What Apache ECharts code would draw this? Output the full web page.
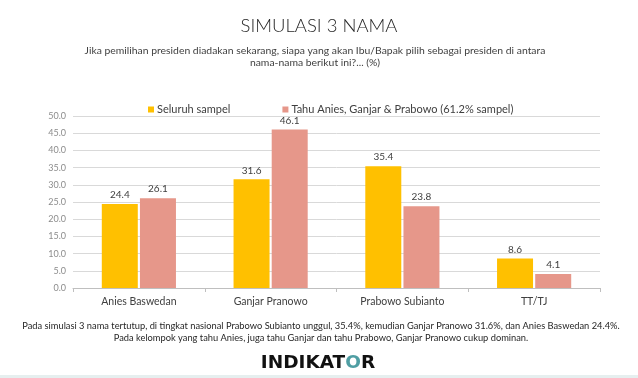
<!DOCTYPE html>
<html>
<head>
<meta charset="utf-8">
<script src="https://cdn.jsdelivr.net/npm/echarts@6/dist/echarts.min.js"></script>
<style>
  html, body { margin: 0; padding: 0; background: #fff; }
  #chart { width: 638px; height: 378px; }
</style>
</head>
<body>
<div id="chart"></div>
<script>
// Simulasi 3 nama - Indikator
const categories = ['Anies Baswedan', 'Ganjar Pranowo', 'Prabowo Subianto', 'TT/TJ'];
const seluruhSampel = [24.4, 31.6, 35.4, 8.6];
const tahuKetiga = [26.1, 46.1, 23.8, 4.1];
const seriesNames = ['Seluruh sampel', 'Tahu Anies, Ganjar & Prabowo (61.2% sampel)'];

const titleText = 'SIMULASI 3 NAMA';
const questionText = 'Jika pemilihan presiden diadakan sekarang, siapa yang akan Ibu/Bapak pilih sebagai presiden di antara\nnama-nama berikut ini?... (%)';
const noteText = 'Pada simulasi 3 nama tertutup, di tingkat nasional Prabowo Subianto unggul, 35.4%, kemudian Ganjar Pranowo 31.6%, dan Anies Baswedan 24.4%.\nPada kelompok yang tahu Anies, juga tahu Ganjar dan tahu Prabowo, Ganjar Pranowo cukup dominan.';

const FONT = 'Lato, "Noto Sans", sans-serif';

const chart = echarts.init(document.getElementById('chart'));

const labelStyle = {
  show: true,
  position: 'top',
  distance: 4,
  color: '#404040',
  fontSize: 10,
  fontFamily: FONT,
  formatter: p => p.value.toFixed(1)
};

chart.setOption({
  backgroundColor: '#fff',
  animation: false,
  textStyle: { fontFamily: FONT },
  title: {
    text: titleText,
    left: 'center',
    top: 12,
    textStyle: { fontSize: 18.5, fontWeight: 300, color: '#262626', fontFamily: FONT }
  },
  legend: {
    top: 99,
    left: 143,
    itemWidth: 6,
    itemHeight: 6,
    itemGap: 52,
    icon: 'rect',
    textStyle: { fontSize: 11, color: '#404040', fontFamily: FONT, padding: [0, 0, 0, -2] },
    data: seriesNames
  },
  grid: { left: 73, right: 38, top: 116, bottom: 90 },
  xAxis: {
    type: 'category',
    data: categories,
    axisLine: { lineStyle: { color: '#bfbfbf' } },
    axisTick: { show: true, length: 4, lineStyle: { color: '#bfbfbf' } },
    axisLabel: { color: '#404040', fontSize: 10.5, margin: 8, fontFamily: FONT }
  },
  yAxis: {
    type: 'value',
    min: 0,
    max: 50,
    interval: 5,
    axisLine: { show: false },
    axisTick: { show: false },
    axisLabel: { color: '#8c8c8c', fontSize: 9, margin: 7, fontFamily: FONT, formatter: v => v.toFixed(1) },
    splitLine: { lineStyle: { color: '#d9d9d9', width: 1 } }
  },
  series: [
    {
      name: seriesNames[0],
      type: 'bar',
      data: seluruhSampel,
      barWidth: 36,
      barGap: '6%',
      itemStyle: { color: '#FFC000' },
      label: labelStyle
    },
    {
      name: seriesNames[1],
      type: 'bar',
      data: tahuKetiga,
      barWidth: 36,
      itemStyle: { color: '#E6978A' },
      label: labelStyle
    }
  ],
  graphic: [
    {
      type: 'text',
      x: 315,
      y: 45,
      style: {
        text: questionText,
        textAlign: 'center',
        fontSize: 10.4,
        lineHeight: 12,
        fill: '#404040',
        fontFamily: FONT
      }
    },
    {
      type: 'text',
      x: 321,
      y: 320,
      style: {
        text: noteText,
        textAlign: 'center',
        fontSize: 9.3,
        lineHeight: 12,
        fill: '#262626',
        fontFamily: FONT
      }
    },
    {
      type: 'text',
      x: 318,
      y: 354,
      style: {
        text: '{a|INDIKAT}{o|O}{a|R}',
        textAlign: 'center',
        rich: {
          a: { fontSize: 18.5, fontWeight: 'bold', fill: '#111', fontFamily: '"DejaVu Sans", sans-serif' },
          o: { fontSize: 18.5, fontWeight: 'bold', fill: '#4f9ea3', fontFamily: '"DejaVu Sans", sans-serif' }
        }
      }
    },
    {
      type: 'rect',
      left: 0,
      top: 375,
      shape: { width: 638, height: 3 },
      style: { fill: '#e6efef' }
    }
  ]
});
</script>
</body>
</html>
